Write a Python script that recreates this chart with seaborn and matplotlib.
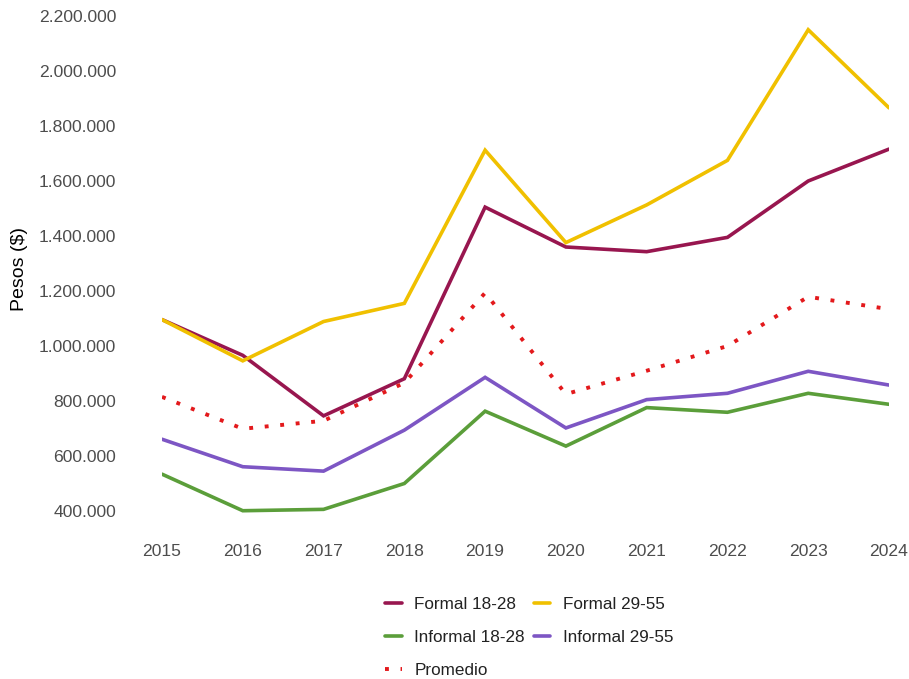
import matplotlib
matplotlib.use("Agg")
import matplotlib.pyplot as plt
import matplotlib.ticker as mticker
import seaborn as sns
import pandas as pd

years = [2015, 2016, 2017, 2018, 2019, 2020, 2021, 2022, 2023, 2024]
formal_18_28 = [1096000, 966000, 746000, 881000, 1505000, 1360000, 1343000, 1395000, 1600000, 1716000]
formal_29_55 = [1096000, 946000, 1089000, 1155000, 1712000, 1376000, 1513000, 1675000, 2150000, 1866000]
informal_18_28 = [534000, 401000, 406000, 500000, 763000, 636000, 776000, 759000, 828000, 788000]
informal_29_55 = [661000, 561000, 545000, 694000, 886000, 702000, 805000, 828000, 908000, 858000]
promedio = [815000, 699000, 728000, 866000, 1193000, 825000, 910000, 1000000, 1179000, 1134000]

series_names = ["Formal 18-28", "Formal 29-55", "Informal 18-28", "Informal 29-55", "Promedio"]
series_values = [formal_18_28, formal_29_55, informal_18_28, informal_29_55, promedio]
y_ticks = [400000, 600000, 800000, 1000000, 1200000, 1400000, 1600000, 1800000, 2000000, 2200000]

colors = {
    "Formal 18-28": "#98164F",
    "Formal 29-55": "#F0C000",
    "Informal 18-28": "#5B9E3A",
    "Informal 29-55": "#7D56C4",
    "Promedio": "#E3191C",
}

sns.set_theme(style="white")
plt.rcParams["font.family"] = ["Liberation Sans", "DejaVu Sans"]

df = pd.DataFrame(
    [(y, name, v) for name, vals in zip(series_names, series_values) for y, v in zip(years, vals)],
    columns=["year", "serie", "valor"],
)

fig = plt.figure(figsize=(9.09, 6.79), dpi=100)
ymin, ymax = 330000, 2230000
px_per = 275 / 1e6
top_px = 16 - (ymax - 2200000) * px_per
bot_px = 511 + (400000 - ymin) * px_per
ax = fig.add_axes([162 / 909, (679 - bot_px) / 679, 727 / 909, (bot_px - top_px) / 679])

handles = {}
for name in series_names:
    sub = df[df["serie"] == name]
    if name == "Promedio":
        sns.lineplot(data=sub, x="year", y="valor", ax=ax, color=colors[name],
                     linewidth=2.8, linestyle=(0, (1, 3.0)), label=name)
        ln = ax.lines[-1]
        ln.set_dash_capstyle("butt")
    else:
        sns.lineplot(data=sub, x="year", y="valor", ax=ax, color=colors[name],
                     linewidth=2.6, label=name)
        ln = ax.lines[-1]
    ln.set_solid_joinstyle("miter")
    handles[name] = ln

ax.set_xlim(2015, 2024)
ax.set_ylim(ymin, ymax)
ax.set_xticks(years)
ax.set_xticklabels([str(y) for y in years])
ax.set_yticks(y_ticks)
ax.yaxis.set_major_formatter(mticker.FuncFormatter(lambda v, p: f"{int(v):,}".replace(",", ".")))
ax.tick_params(axis="both", labelsize=12.6, colors="#4D4D4D", length=0)
ax.tick_params(axis="x", pad=10)
ax.tick_params(axis="y", pad=33)
for s in ax.spines.values():
    s.set_visible(False)
ax.grid(False)
ax.set_xlabel("")
ax.set_ylabel("Pesos ($)", fontsize=14, color="black")
ax.yaxis.set_label_coords(-134 / 727, 0.5)
ax.get_legend().remove()

order = ["Formal 18-28", "Informal 18-28", "Promedio", "Formal 29-55", "Informal 29-55"]
leg = fig.legend([handles[n] for n in order], order, loc="upper left",
                 bbox_to_anchor=(370 / 909, 1 - 582 / 679), ncol=2, frameon=False,
                 fontsize=12.3, handlelength=0.95, handletextpad=0.75,
                 columnspacing=0.5, labelspacing=1.05)
for t in leg.get_texts():
    t.set_color("#222222")

fig.savefig("out.png", dpi=100)
